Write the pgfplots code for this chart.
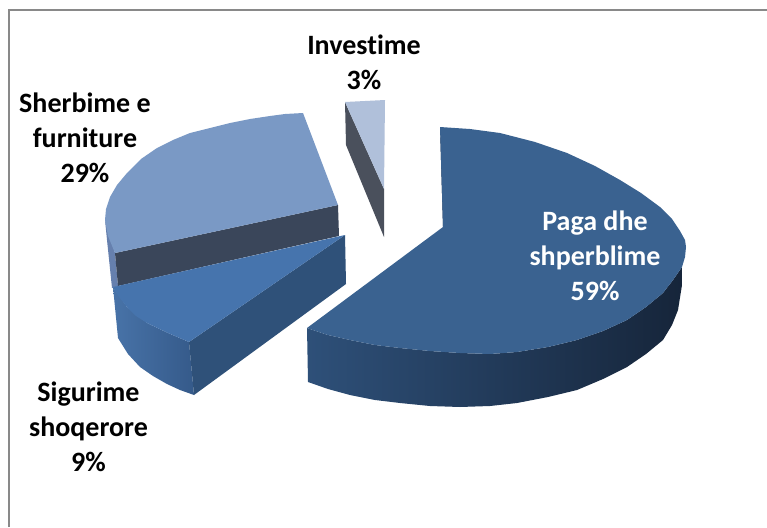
\documentclass[border=0pt]{standalone}
\usepackage{pgfplots}
\pgfplotsset{compat=1.18}
\usepackage{fontspec}
\setmainfont[Ligatures=NoCommon]{Carlito}
\definecolor{bigtop}{HTML}{3A6290}
\definecolor{sectop}{HTML}{4674AD}
\definecolor{sertop}{HTML}{7A99C5}
\definecolor{invtop}{HTML}{B0C0DA}
\tikzset{lab/.style={font=\bfseries\fontsize{28}{35}\selectfont,align=center,text=black}}
\begin{document}
\begin{tikzpicture}
\begin{axis}[scale only axis,width=767pt,height=527pt,xmin=0,xmax=767,ymin=0,ymax=527,y dir=reverse,hide axis,clip=true,
  every axis plot/.append style={no markers,draw=none,line width=0pt}]
% page
\addplot[fill=white] coordinates {(0,0) (767,0) (767,527) (0,527)} --cycle;
% frame
\addplot[draw={rgb,255:red,137;green,137;blue,137},line width=2pt] coordinates {(8.5,527) (8.5,10.5) (767,10.5)};
% Investime
\addplot[fill={rgb,255:red,74;green,80;blue,92}] coordinates {(345,102) (384,189) (384,237) (346,145)} --cycle;
\addplot[fill=invtop] coordinates {(345,102) (385,100) (384,189)} --cycle;
% Sherbime
\addplot[fill={rgb,255:red,102;green,128;blue,174}] coordinates {(105,220) (115,253) (118,286) (112,288) (107,240)} --cycle;
\addplot[fill={rgb,255:red,58;green,70;blue,90}] coordinates {(115,253) (338,205) (339,236) (118,286)} --cycle;
\addplot[fill=sertop] coordinates {(115,253) (338,205) (303,113) (285,114) (270,116) (250,119) (230,123) (210,128) (190,133) (173,140) (157,148) (141,159) (127,173) (117,185) (110,197) (106,209) (105,220) (108,236)} --cycle;
% Sigurime
\addplot[left color={rgb,255:red,72;green,115;blue,168},right color={rgb,255:red,53;green,90;blue,138}] coordinates {(113,287) (118,338) (128,354) (140,367) (153,376) (167,384) (180,390) (194,395) (189,342) (168,333) (147,323) (127,307)} --cycle;
\addplot[fill={rgb,255:red,47;green,81;blue,121}] coordinates {(345,235) (346,284) (194,395) (189,342)} --cycle;
\addplot[fill=sectop] coordinates {(113,287) (345,235) (189,342) (168,333) (147,323) (136,316) (127,307) (119,297)} --cycle;
% Paga
\addplot[fill={rgb,255:red,28;green,48;blue,74}] coordinates {(440,127) (447,227) (443,227)} --cycle;
\addplot[left color={rgb,255:red,46;green,80;blue,121},middle color={rgb,255:red,35;green,62;blue,92},right color={rgb,255:red,22;green,37;blue,58}] coordinates {(307,328) (308,382) (328,389) (350,395) (375,400) (400,403) (430,406) (460,407) (490,406) (517,403) (548,397) (577,390) (603,379) (627,367) (646,354) (663,340) (672,325) (678,310) (682,285) (682,267) (673,280) (663,293) (646,307) (627,320) (603,331) (577,340) (548,347) (517,352) (490,354) (460,353) (430,351) (400,348) (375,345) (350,340) (328,335)} --cycle;
\addplot[fill=bigtop] coordinates {(443,227) (440,127) (470,129) (500,133) (535,142) (567,153) (595,166) (620,180) (641,193) (660,207) (672,219) (680,231) (685,240) (686,247) (685,257) (682,267) (673,280) (663,293) (646,307) (627,320) (603,331) (577,340) (548,347) (517,352) (490,354) (460,353) (430,351) (400,348) (375,345) (350,340) (328,335) (307,328)} --cycle;
% labels
\node[lab] at (axis cs:364,62) {Investime\\3\%};
\node[lab] at (axis cs:85,138) {Sherbime e\\furniture\\29\%};
\node[lab] at (axis cs:88.5,427) {Sigurime\\shoqerore\\9\%};
\node[lab,text=white] at (axis cs:595,256) {Paga dhe\\shperblime\\59\%};
\end{axis}
\end{tikzpicture}
\end{document}
